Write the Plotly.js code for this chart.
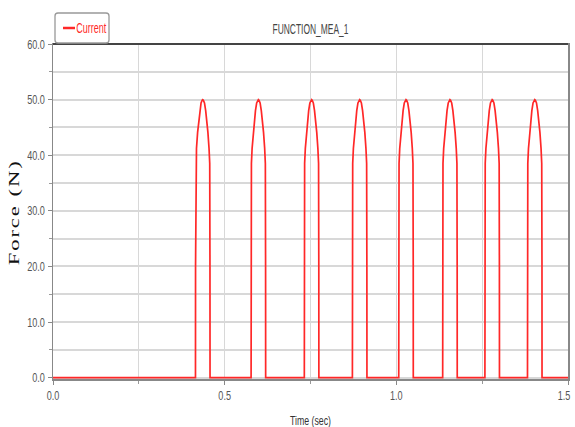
<!DOCTYPE html>
<html><head><meta charset="utf-8">
<script src="https://cdn.plot.ly/plotly-3.0.1.min.js"></script>
<style>html,body{margin:0;padding:0;background:#fff}#chart{width:575px;height:427px}</style>
</head><body><div id="chart"></div>
<script>
// Pulse leading-edge times (s)
const pulseStarts = [0.415, 0.577, 0.732, 0.872, 1.007, 1.135, 1.258, 1.382];
// One pulse profile: time offset from its leading edge (s) and force (N)
const profileDt = [0, 0.0002, 0.0009, 0.0029, 0.0062, 0.0096, 0.0127, 0.0162, 0.0195, 0.0212, 0.0229, 0.0262, 0.0297, 0.0328, 0.0362, 0.0395, 0.0415, 0.0422, 0.0424];
const profileForce = [0, 20, 38.5, 41.2, 44.1, 46.4, 48.0, 49.4, 49.9, 50, 49.9, 49.4, 48.0, 46.4, 44.1, 41.2, 38.5, 20, 0];
const timeRange = [0, 1.5];
const seriesName = 'Current';
const chartTitle = 'FUNCTION_MEA_1';
const xTitle = 'Time (sec)';
const yTitle = 'Force (N)';

const tx = [timeRange[0]], fy = [0];
pulseStarts.forEach(s => {
  profileDt.forEach((d, i) => { tx.push(+(s + d).toFixed(5)); fy.push(profileForce[i]); });
});
tx.push(timeRange[1]); fy.push(0);

const sans = '"Liberation Sans", Arial, sans-serif';
const red = 'rgb(255,40,40)';
const grid = '#d8d8d8';

const trace = {x: tx, y: fy, type: 'scatter', mode: 'lines', name: seriesName,
  line: {color: red, width: 1.7}, showlegend: false};

const layout = {
  width: 575, height: 427,
  margin: {l: 53, r: 7, t: 44, b: 48},
  paper_bgcolor: '#fff', plot_bgcolor: '#fff',
  title: {text: chartTitle, font: {family: sans, size: 14, color: '#444'},
    x: 0.5, xref: 'paper', y: 1 - 29 / 427, yref: 'container', yanchor: 'middle'},
  xaxis: {range: timeRange, dtick: 0.5, tick0: 0, tickformat: '.1f', ticklabeloverflow: 'allow',
    ticks: 'outside', ticklen: 4, tickcolor: '#888', tickwidth: 1,
    showline: true, mirror: true, linecolor: '#888', linewidth: 1.5,
    showgrid: true, gridcolor: grid, gridwidth: 1, zeroline: false,
    tickfont: {family: sans, size: 13, color: '#555'},
    minor: {dtick: 0.25, ticks: 'outside', ticklen: 3, tickcolor: '#999', showgrid: true, gridcolor: grid, gridwidth: 1}},
  yaxis: {range: [-0.25, 60], dtick: 10, tick0: 0, tickformat: '.1f', ticklabeloverflow: 'allow',
    ticks: 'outside', ticklen: 4, tickcolor: '#888', tickwidth: 1,
    showline: true, mirror: true, linecolor: '#888', linewidth: 1.5,
    showgrid: true, gridcolor: grid, gridwidth: 2, zeroline: false,
    tickfont: {family: sans, size: 13, color: '#555'},
    minor: {dtick: 5, ticks: 'outside', ticklen: 3, tickcolor: '#999', showgrid: true, gridcolor: grid, gridwidth: 2}},
  shapes: [
    {type: 'line', xref: 'paper', yref: 'paper', x0: 0, x1: 1, y0: 1, y1: 1, line: {color: '#444', width: 2}},
    {type: 'path', xref: 'paper', yref: 'paper', xsizemode: 'pixel', ysizemode: 'pixel', xanchor: 0, yanchor: 1,
      path: 'M 5,1 L 53,1 Q 56,1 56,4 L 56,28 Q 56,31 53,31 L 5,31 Q 2,31 2,28 L 2,4 Q 2,1 5,1 Z',
      fillcolor: '#fff', line: {color: '#999', width: 1.3}},
    {type: 'line', xref: 'paper', yref: 'paper', xsizemode: 'pixel', ysizemode: 'pixel', xanchor: 0, yanchor: 1,
      x0: 10, x1: 22, y0: 16, y1: 16, line: {color: red, width: 2.5}}
  ],
  annotations: [
    {text: seriesName, xref: 'paper', yref: 'paper', x: 0, y: 1, xanchor: 'center', yanchor: 'middle',
      xshift: 38, yshift: 16, showarrow: false, font: {family: sans, size: 14, color: red}},
    {text: xTitle, xref: 'paper', yref: 'paper', x: 0.5, y: -(420 - 378.5) / 334.5, xanchor: 'center', yanchor: 'middle',
      showarrow: false, font: {family: sans, size: 13, color: '#333'}},
    {text: yTitle, xref: 'paper', yref: 'paper', x: (14.5 - 53) / 515, y: (378.5 - 212) / 334.5, xanchor: 'center', yanchor: 'middle',
      textangle: -90, showarrow: false, font: {family: '"Liberation Serif", "Times New Roman", serif', size: 15, color: '#111'}}
  ]
};

function squeeze(el, target) {
  el.setAttribute('textLength', target.toFixed(2));
  el.setAttribute('lengthAdjust', 'spacingAndGlyphs');
}

Plotly.newPlot('chart', [trace], layout, {displayModeBar: false, staticPlot: true}).then(gd => {
  const xt = gd.querySelectorAll('.xtick text');
  gd.querySelectorAll('.xtick text, .ytick text').forEach(t => squeeze(t, t.getComputedTextLength() * 0.7));
  if (xt.length) xt[xt.length - 1].setAttribute('dx', '-4');
  gd.querySelectorAll('.gtitle').forEach(t => squeeze(t, 76));
  gd.querySelectorAll('.annotation-text').forEach(t => {
    if (t.textContent === seriesName) squeeze(t, 30);
    else if (t.textContent === xTitle) squeeze(t, 41);
    else if (t.textContent === yTitle) { t.style.letterSpacing = '1.3px'; squeeze(t, 106); }
  });
});
</script>
</body></html>
